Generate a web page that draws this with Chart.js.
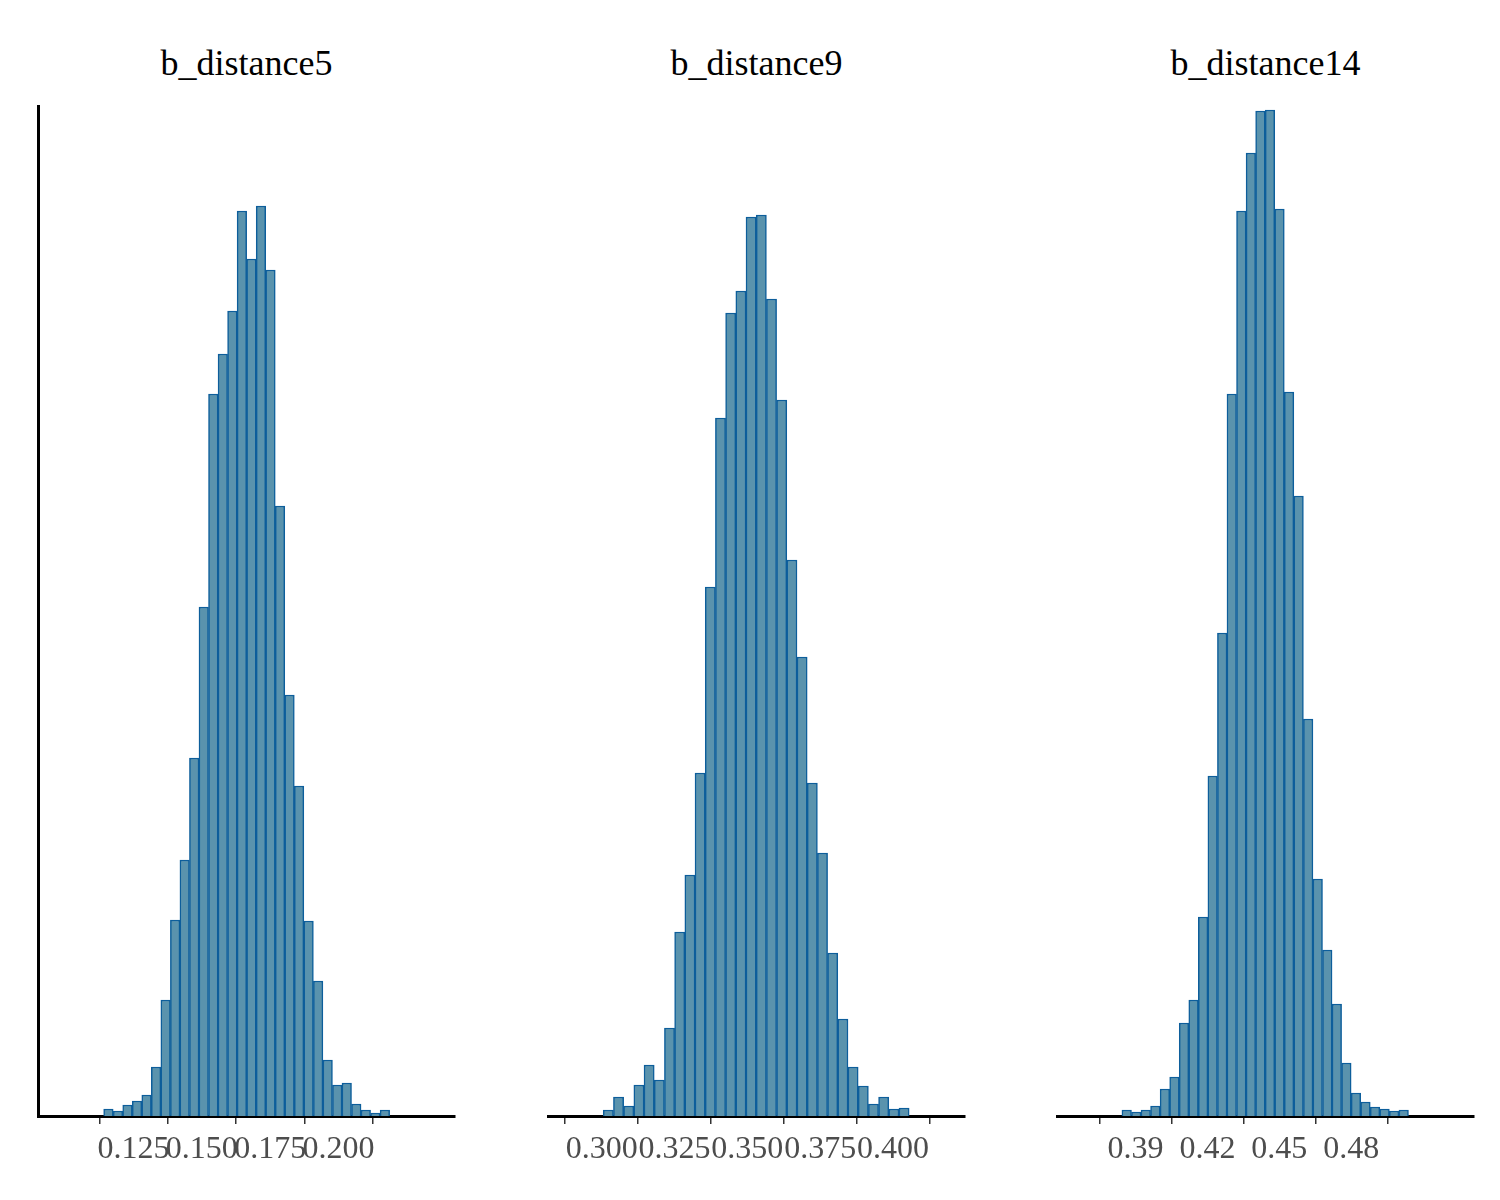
<!DOCTYPE html>
<html>
<head>
<meta charset="utf-8">
<script src="https://cdn.jsdelivr.net/npm/chart.js@4"></script>
<style>
  body { margin: 0; background: #fff; width: 1500px; height: 1200px; position: relative; overflow: hidden; }
  canvas { position: absolute; }
  .ttl { position: absolute; top: 42px; font-family: "Liberation Serif", serif; font-size: 36px; color: #000; text-align: center; }
</style>
</head>
<body>
<script>
'use strict';

// panel titles
const titles = ['b_distance5', 'b_distance9', 'b_distance14'];

// bin centres and widths (first centre, bin width) per panel
const start5 = 0.1158, width5 = 0.00349;
const start9 = 0.3023, width9 = 0.00350;
const start14 = 0.38638, width14 = 0.00398;

// bar heights (common arbitrary scale)
const counts5 = [7, 5, 11, 15, 21, 49, 116, 196, 256, 358, 509, 722, 762, 805, 905,
  857, 910, 846, 610, 421, 330, 195, 135, 56, 31, 33, 12, 6, 3, 6];
const counts9 = [6, 19, 10, 31, 51, 36, 88, 184, 241, 343, 529, 698, 803, 825, 899,
  901, 817, 716, 556, 459, 333, 263, 163, 97, 49, 30, 12, 19, 7, 8];
const counts14 = [6, 4, 6, 10, 27, 39, 93, 116, 199, 340, 483, 722, 905, 963, 1005,
  1006, 907, 724, 620, 397, 237, 166, 112, 53, 23, 14, 9, 7, 5, 6];

// tick labels
const ticks5 = [0.125, 0.150, 0.175, 0.200];
const ticks9 = [0.300, 0.325, 0.350, 0.375, 0.400];
const ticks14 = [0.39, 0.42, 0.45, 0.48];

const panels = [
  { counts: counts5, start: start5, w: width5, ticks: ticks5, dec: 3, min: 0.1091, max: 0.2236, left: 38, right: 455, yline: true },
  { counts: counts9, start: start9, w: width9, ticks: ticks9, dec: 3, min: 0.2959, max: 0.4104, left: 548, right: 965, yline: false },
  { counts: counts14, start: start14, w: width14, ticks: ticks14, dec: 2, min: 0.37906, max: 0.50938, left: 1057, right: 1474, yline: false }
];

const PAD = 50;
const TOP = 105, BOTTOM = 1116, XH = 84;

panels.forEach((p, i) => {
  const t = document.createElement('div');
  t.className = 'ttl';
  t.textContent = titles[i];
  t.style.left = p.left + 'px';
  t.style.width = (p.right - p.left) + 'px';
  document.body.appendChild(t);

  const c = document.createElement('canvas');
  const w = p.right - p.left + 2 * PAD;
  const h = BOTTOM - TOP + XH;
  c.width = w; c.height = h;
  c.style.left = (p.left - PAD) + 'px';
  c.style.top = TOP + 'px';
  c.style.width = w + 'px'; c.style.height = h + 'px';
  document.body.appendChild(c);

  const pts = p.counts.map((v, k) => ({ x: p.start + k * p.w, y: v }));

  new Chart(c.getContext('2d'), {
    type: 'bar',
    data: {
      datasets: [{
        data: pts,
        backgroundColor: '#5a93ad',
        borderColor: '#0d5e9b',
        borderWidth: 1.5,
        barPercentage: 1,
        categoryPercentage: 1
      }]
    },
    options: {
      responsive: false,
      animation: false,
      devicePixelRatio: 1,
      layout: { padding: { left: PAD, right: PAD, top: 0, bottom: 0 } },
      plugins: { legend: { display: false }, tooltip: { enabled: false } },
      scales: {
        x: {
          type: 'linear',
          min: p.min, max: p.max,
          afterFit: s => { s.height = XH; },
          afterBuildTicks: s => { s.ticks = p.ticks.map(v => ({ value: v })); },
          grid: { display: true, drawOnChartArea: false, tickLength: 8, color: '#333', lineWidth: 1.5 },
          border: { display: true, color: '#000', width: 3 },
          ticks: {
            padding: 6,
            color: '#4d4d4d',
            font: { family: 'Liberation Serif', size: 32 },
            maxRotation: 0,
            autoSkip: false,
            callback: v => Number(v).toFixed(p.dec)
          }
        },
        y: {
          min: 0, max: BOTTOM - TOP,
          afterFit: s => { s.width = 0; },
          grid: { display: false },
          ticks: { display: false },
          border: { display: p.yline, color: '#000', width: 3 }
        }
      }
    }
  });
});
</script>
</body>
</html>
